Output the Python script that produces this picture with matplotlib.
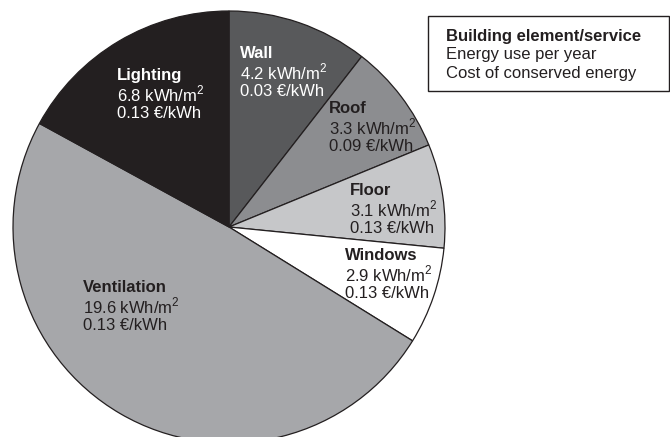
import matplotlib
matplotlib.use("Agg")
import matplotlib.pyplot as plt
from matplotlib.patches import Rectangle

plt.rcParams["font.family"] = ["Liberation Sans", "DejaVu Sans"]
plt.rcParams["mathtext.fontset"] = "custom"
plt.rcParams["mathtext.rm"] = "Liberation Sans"

# data, clockwise from 12 o'clock
elements = ["Wall", "Roof", "Floor", "Windows", "Ventilation", "Lighting"]
energy_use = [4.2, 3.3, 3.1, 2.9, 19.6, 6.8]          # kWh/m2 per year
cost = ["0.03", "0.09", "0.13", "0.13", "0.13", "0.13"]  # EUR/kWh
colors = ["#58595b", "#8c8d90", "#c6c7c9", "#ffffff", "#a6a7aa", "#231f20"]
text_colors = ["white", "#231f20", "#231f20", "#231f20", "#231f20", "white"]

# label anchor (left x, first line y) in pixels from top-left
label_pos = {
    "Wall": (240, 52),
    "Roof": (329, 107),
    "Floor": (350, 189),
    "Windows": (345, 254),
    "Ventilation": (83, 286),
    "Lighting": (117, 74),
}

W, H = 670, 437
fig = plt.figure(figsize=(W / 100, H / 100), dpi=100)

# pie: centre (229, 227) px, radius 216 px
cx, cy, r = 229, 227, 216
ax = fig.add_axes([(cx - r) / W, (H - cy - r) / H, 2 * r / W, 2 * r / H])
ax.pie(energy_use, colors=colors, startangle=90, counterclock=False, radius=1,
       wedgeprops=dict(edgecolor="#231f20", linewidth=0.9))
ax.set_xlim(-1, 1)
ax.set_ylim(-1, 1)
ax.set_aspect("auto")
ax.axis("off")
for p in ax.patches:
    p.set_clip_on(False)

line_h = 19
for name, val, c, tc in zip(elements, energy_use, cost, text_colors):
    x, y = label_pos[name]
    lines = [name, f"{val} kWh/m$^2$", f"{c} €/kWh"]
    for i, s in enumerate(lines):
        fig.text(x / W, 1 - (y + i * line_h) / H, s, color=tc, fontsize=12,
                 fontweight="bold" if i == 0 else "normal",
                 ha="left", va="center_baseline")

# legend box
fig.patches.append(Rectangle((428 / W, 1 - 91 / H), (669 - 428) / W, (91 - 16) / H,
                             transform=fig.transFigure, fill=False,
                             edgecolor="#231f20", linewidth=1))
legend_lines = ["Building element/service", "Energy use per year", "Cost of conserved energy"]
for i, s in enumerate(legend_lines):
    fig.text(446 / W, 1 - (35 + i * 18.5) / H, s, color="#231f20", fontsize=12,
             fontweight="bold" if i == 0 else "normal",
             ha="left", va="center_baseline")

fig.savefig("out.png", dpi=100)
